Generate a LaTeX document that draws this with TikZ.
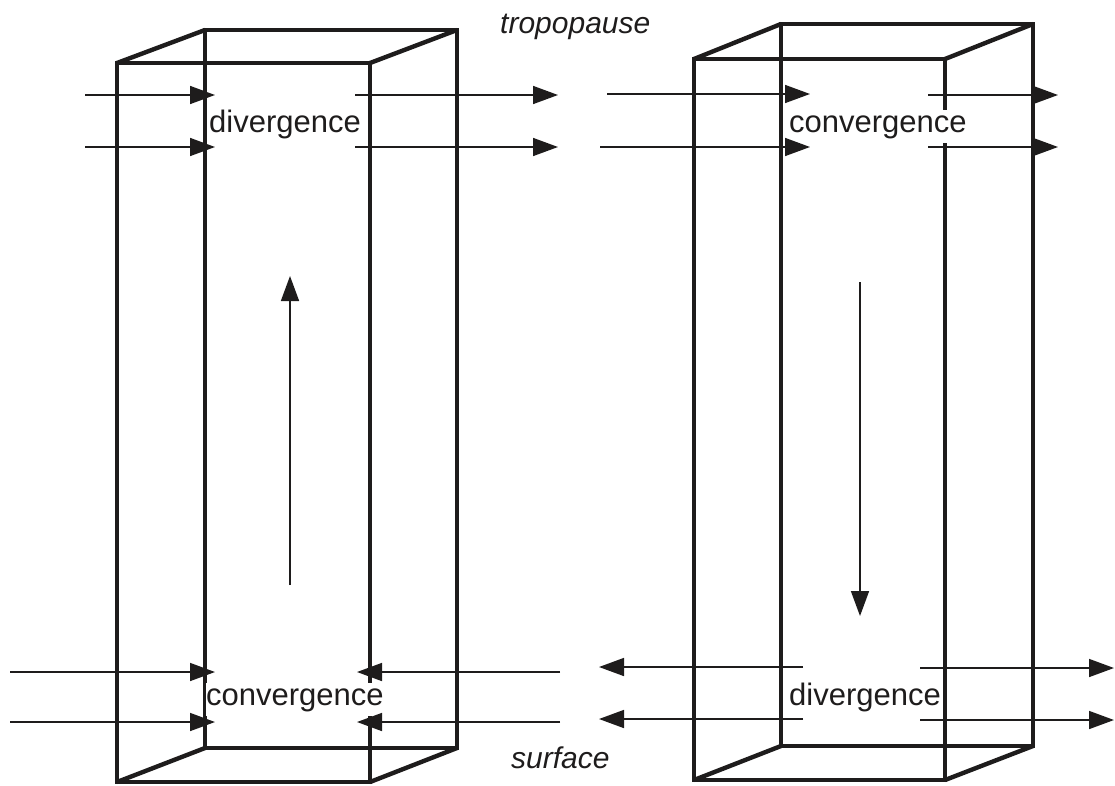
\documentclass[tikz,border=0pt]{standalone}
\usepackage{fontspec}
\setmainfont{Liberation Sans}
\usetikzlibrary{arrows.meta}
\definecolor{ink}{RGB}{30,28,28}
\tikzset{
  boxedge/.style={draw=ink, line width=4.4pt, line join=miter},
  flow/.style={draw=ink, line width=1.6pt, -{Triangle[length=25pt,width=18pt]}},
  lbl/.style={font=\fontsize{31}{37}\selectfont, text=ink, inner xsep=0pt, inner ysep=5pt, anchor=base west},
  clbl/.style={lbl, fill=white},
  ilbl/.style={lbl, font=\fontsize{30}{36}\selectfont\itshape}
}
\begin{document}
\begin{tikzpicture}[x=1pt,y=-1pt]
\useasboundingbox (0,0) rectangle (1115,785);
% ---------- left column (updraft) ----------
\coordinate (LftTL) at (117,63);  \coordinate (LftTR) at (370,63);
\coordinate (LftBL) at (117,782); \coordinate (LftBR) at (370,782);
\coordinate (LbkTL) at (205,30);  \coordinate (LbkTR) at (457,30);
\coordinate (LbkBL) at (205,748); \coordinate (LbkBR) at (457,748);
\path[boxedge] (LbkTL) -- (LbkTR) -- (LbkBR) -- (LbkBL) -- cycle;
\path[boxedge] (LftTL) -- (LftTR) -- (LftBR) -- (LftBL) -- cycle;
\path[boxedge] (LftTL) -- (LbkTL) (LftTR) -- (LbkTR) (LftBL) -- (LbkBL) (LftBR) -- (LbkBR);
% ---------- right column (downdraft) ----------
\coordinate (RftTL) at (694,59);  \coordinate (RftTR) at (945,59);
\coordinate (RftBL) at (694,780); \coordinate (RftBR) at (945,780);
\coordinate (RbkTL) at (781,24);  \coordinate (RbkTR) at (1033,24);
\coordinate (RbkBL) at (781,746); \coordinate (RbkBR) at (1033,746);
\path[boxedge] (RbkTL) -- (RbkTR) -- (RbkBR) -- (RbkBL) -- cycle;
\path[boxedge] (RftTL) -- (RftTR) -- (RftBR) -- (RftBL) -- cycle;
\path[boxedge] (RftTL) -- (RbkTL) (RftTR) -- (RbkTR) (RftBL) -- (RbkBL) (RftBR) -- (RbkBR);
% ---------- labels ----------
\node[clbl] (ldiv) at (209,132) {divergence};
\node[clbl] (lconv) at (206,705) {convergence};
\node[clbl] (rconv) at (789,132) {convergence};
\node[clbl] (rdiv) at (789,705) {divergence};
\node[ilbl] (trop) at (500,33) {tropopause};
\node[ilbl] (surf) at (511,768) {surface};
% ---------- arrows, left column ----------
\coordinate (a1s) at (85,95);   \coordinate (a1e) at (215,95);
\coordinate (a2s) at (85,147);  \coordinate (a2e) at (215,147);
\coordinate (a3s) at (355,95);  \coordinate (a3e) at (558,95);
\coordinate (a4s) at (355,147); \coordinate (a4e) at (558,147);
\coordinate (a5s) at (10,672);  \coordinate (a5e) at (215,672);
\coordinate (a6s) at (10,722);  \coordinate (a6e) at (215,722);
\coordinate (a7s) at (560,672); \coordinate (a7e) at (357,672);
\coordinate (a8s) at (560,722); \coordinate (a8e) at (357,722);
\coordinate (ups) at (290,585); \coordinate (upe) at (290,276);
\foreach \n in {1,...,8} {\path[flow] (a\n s) -- (a\n e);}
\path[flow] (ups) -- (upe);
% ---------- arrows, right column ----------
\coordinate (b1s) at (607,94);  \coordinate (b1e) at (810,94);
\coordinate (b2s) at (600,147); \coordinate (b2e) at (810,147);
\coordinate (b3s) at (928,95);  \coordinate (b3e) at (1058,95);
\coordinate (b4s) at (928,147); \coordinate (b4e) at (1058,147);
\coordinate (b5s) at (803,667); \coordinate (b5e) at (599,667);
\coordinate (b6s) at (803,719); \coordinate (b6e) at (599,719);
\coordinate (b7s) at (920,668); \coordinate (b7e) at (1114,668);
\coordinate (b8s) at (920,720); \coordinate (b8e) at (1114,720);
\coordinate (dns) at (860,282); \coordinate (dne) at (860,616);
\foreach \n in {1,...,8} {\path[flow] (b\n s) -- (b\n e);}
\path[flow] (dns) -- (dne);
\end{tikzpicture}
\end{document}
